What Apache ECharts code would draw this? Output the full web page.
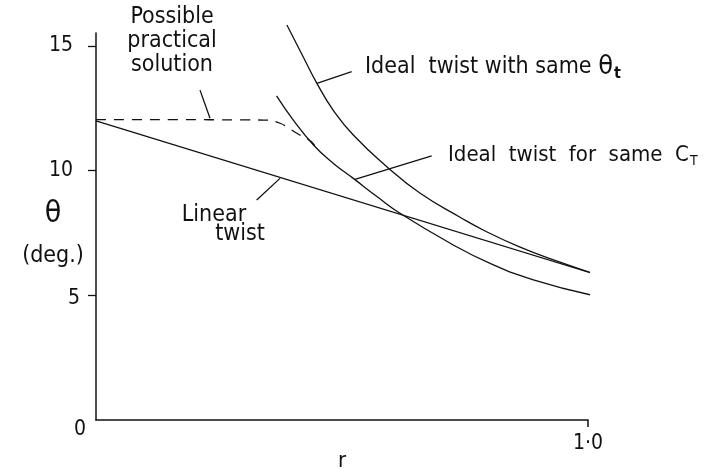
<!DOCTYPE html>
<html>
<head>
<meta charset="utf-8">
<script src="https://cdn.jsdelivr.net/npm/echarts@6/dist/echarts.min.js"></script>
<style>
  html, body { margin: 0; padding: 0; background: #fff; }
  #chart { width: 710px; height: 469px; }
</style>
</head>
<body>
<div id="chart"></div>
<script>
// Blade twist distributions: pitch angle theta (deg.) against radius r
const yTicks = [5, 10, 15];
const yLabels = [0, 5, 10, 15];
const xLabels = [1];

const rLinear = [0, 1.014];
const thetaLinear = [12.0, 5.85];

const rIdealTip = [0.388, 0.421, 0.449, 0.482, 0.523, 0.591, 0.659, 0.74, 0.787, 0.862, 0.943, 1.014];
const thetaIdealTip = [15.84, 14.57, 13.5, 12.43, 11.43, 10.16, 9.09, 8.13, 7.62, 6.93, 6.33, 5.86];

const rIdealCT = [0.367, 0.401, 0.442, 0.482, 0.523, 0.571, 0.618, 0.72, 0.80, 0.889, 1.0075];
const thetaIdealCT = [13.0, 12.03, 11.03, 10.3, 9.69, 8.96, 8.29, 7.09, 6.29, 5.62, 5.01];

const rPractical = [0, 0.34, 0.374, 0.408, 0.438, 0.446];
const thetaPractical = [12.05, 12.03, 11.9, 11.5, 11.16, 10.95];

// leader lines from the annotations to their curves, in (r, theta)
const leaders = [
  [[0.2114, 13.23], [0.2317, 12.10]],
  [[0.3266, 8.82], [0.374, 9.69]],
  [[0.449, 13.50], [0.5197, 13.97]],
  [[0.5264, 9.65], [0.6823, 10.59]]
];

const FONT = "'Liberation Sans Narrow','DejaVu Sans Condensed','Liberation Sans',sans-serif";
const INK = '#111';

const zip = (xs, ys) => xs.map((x, i) => [x, ys[i]]);

const curve = (name, xs, ys, dashed, smooth) => ({
  name: name,
  type: 'line',
  data: zip(xs, ys),
  smooth: smooth,
  showSymbol: false,
  clip: false,
  silent: true,
  lineStyle: { color: INK, width: 1.3, type: dashed ? [10, 8] : 'solid' }
});

const linear = curve('Linear twist', rLinear, thetaLinear, false, false);
linear.markLine = {
  silent: true,
  symbol: ['none', 'none'],
  label: { show: false },
  lineStyle: { color: INK, width: 1.3, type: 'solid' },
  data: leaders.map(([a, b]) => [{ coord: a }, { coord: b }])
};

const chart = echarts.init(document.getElementById('chart'), null, { renderer: 'canvas' });

chart.setOption({
  animation: false,
  backgroundColor: '#fff',
  grid: { left: 96, right: 122, top: 33, bottom: 49, containLabel: false, outerBoundsMode: 'none' },
  xAxis: {
    type: 'value',
    min: 0,
    max: 1,
    name: 'r',
    nameLocation: 'middle',
    nameGap: 30,
    nameMoveOverlap: false,
    nameTextStyle: { fontFamily: FONT, fontSize: 22, color: INK },
    axisLine: { show: true, lineStyle: { color: INK, width: 1.5 } },
    axisTick: { show: true, length: 7, customValues: xLabels, lineStyle: { color: INK, width: 1.5 } },
    axisLabel: {
      customValues: xLabels,
      margin: 13,
      fontFamily: FONT,
      fontSize: 21,
      color: INK,
      formatter: v => (v === 1 ? '1·0' : '')
    },
    splitLine: { show: false }
  },
  yAxis: {
    type: 'value',
    min: 0,
    max: 15.52,
    name: '{th|θ}\n{u|(deg.)}',
    nameLocation: 'middle',
    nameRotate: 0,
    nameGap: 43,
    nameMoveOverlap: false,
    nameTextStyle: {
      align: 'center',
      verticalAlign: 'middle',
      color: INK,
      padding: [18, 0, 0, 0],
      rich: {
        th: { fontFamily: FONT, fontSize: 30, color: INK, lineHeight: 42, align: 'center' },
        u: { fontFamily: FONT, fontSize: 23, color: INK, lineHeight: 42, align: 'center' }
      }
    },
    axisLine: { show: true, lineStyle: { color: INK, width: 1.5 } },
    axisTick: { show: true, length: 8, customValues: yTicks, lineStyle: { color: INK, width: 1.3 } },
    axisLabel: {
      customValues: yLabels,
      margin: 10,
      color: INK,
      formatter: v => {
        if (v === 0) return '{z|0}';
        if (v === 5) return '{f|5}';
        return '{n|' + v + '}';
      },
      rich: {
        z: { fontFamily: FONT, fontSize: 21, color: INK, padding: [20, 0, 0, 0] },
        f: { fontFamily: FONT, fontSize: 21, color: INK, padding: [6, 6, 0, 0] },
        n: { fontFamily: FONT, fontSize: 21, color: INK, padding: [0, 13, 0, 0] }
      }
    },
    splitLine: { show: false }
  },
  series: [
    linear,
    curve('Ideal twist with same θt', rIdealTip, thetaIdealTip, false, 0.5),
    curve('Ideal twist for same CT', rIdealCT, thetaIdealCT, false, 0.5),
    curve('Possible practical solution', rPractical, thetaPractical, true, 0.4)
  ]
});

// annotation texts anchored in (r, theta) space
const notes = [
  { at: [0.1545, 15.2], align: 'center', size: 23, text: 'Possible\npractical\nsolution' },
  { at: [0.5467, 14.15], align: 'left', size: 23, text: 'Ideal  twist with same {th|θ}{sub|t}' },
  { at: [0.7154, 10.63], align: 'left', size: 22, text: 'Ideal  twist  for  same  C{ct|T}' },
  { at: [0.2398, 8.22], align: 'center', size: 23, text: 'Linear' },
  { at: [0.2927, 7.46], align: 'center', size: 23, text: 'twist' }
];

chart.setOption({
  graphic: notes.map(n => {
    const p = chart.convertToPixel({ gridIndex: 0 }, n.at);
    return {
      type: 'text',
      x: p[0],
      y: p[1],
      silent: true,
      style: {
        text: n.text,
        fill: INK,
        fontFamily: FONT,
        fontSize: n.size,
        align: n.align,
        verticalAlign: 'middle',
        lineHeight: 24,
        rich: {
          th: { fontFamily: FONT, fontSize: 27, fill: INK },
          sub: { fontFamily: FONT, fontSize: 16, fontWeight: 'bold', fill: INK, padding: [14, 0, 0, 1] },
          ct: { fontFamily: FONT, fontSize: 14, fill: INK, padding: [12, 0, 0, 1] }
        }
      }
    };
  })
});
</script>
</body>
</html>
